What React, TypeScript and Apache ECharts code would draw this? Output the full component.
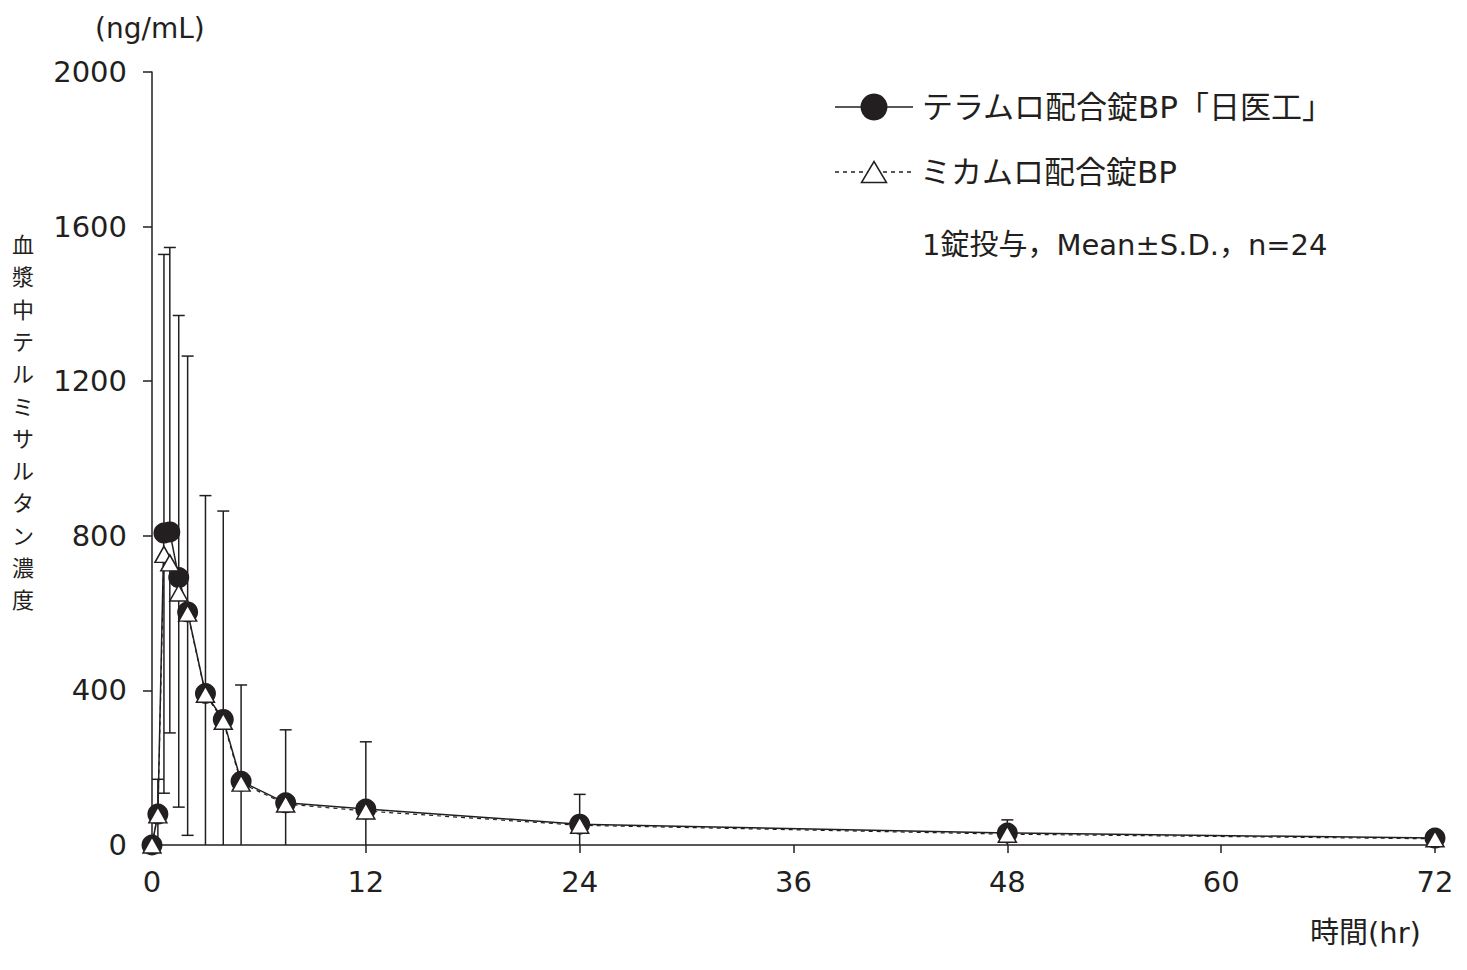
import React, { useEffect, useRef } from "react";
import * as echarts from "echarts";

const times = [0, 0.33, 0.67, 1, 1.5, 2, 3, 4, 5, 7.5, 12, 24, 48, 72];
const testMean = [0, 80, 807, 810, 692, 603, 392, 325, 165, 109, 93, 54, 31, 18];
const testSD = [0, 90, 721, 736, 678, 662, 512, 539, 249, 189, 174, 77, 34, 14];
const refMean = [0, 78, 752, 730, 652, 600, 390, 320, 160, 106, 88, 51, 28, 16];
const refSD = [0, 95, 618, 440, 554, 575, 480, 520, 250, 190, 170, 75, 35, 20];

const testName = "テラムロ配合錠BP「日医工」";
const refName = "ミカムロ配合錠BP";
const noteText = "1錠投与，Mean±S.D.，n=24";
const yName = "血漿中テルミサルタン濃度";
const yUnit = "(ng/mL)";
const xName = "時間(hr)";

const INK = "#231f20";
const LATIN = "'DejaVu Sans', 'Noto Sans CJK JP', sans-serif";
const CJK = "'Noto Sans CJK JP', sans-serif";

export default function App() {
  const ref = useRef<HTMLDivElement>(null);
  useEffect(() => {
    document.body.style.margin = "0";
    const chart = echarts.init(ref.current!, null, { renderer: "svg" });

    const upperBars = times
      .map((t, i) => [t, testMean[i], testMean[i] + testSD[i], 1])
      .filter((_, i) => testSD[i] > 0);
    const lowerBars = times
      .map((t, i) => {
        const lo = refMean[i] - refSD[i];
        return [t, refMean[i], Math.max(lo, 0), lo >= 0 ? 1 : 0];
      })
      .filter((_, i) => refSD[i] > 0);

    const renderBar = (params: any, api: any) => {
      const x = api.value(0);
      const a = api.coord([x, api.value(1)]);
      const b = api.coord([x, api.value(2)]);
      const st = { stroke: INK, lineWidth: 1.5 };
      const children: any[] = [
        { type: "line", shape: { x1: a[0], y1: a[1], x2: b[0], y2: b[1] }, style: st },
      ];
      if (api.value(3)) {
        children.push({
          type: "line",
          shape: { x1: b[0] - 6, y1: b[1], x2: b[0] + 6, y2: b[1] },
          style: st,
        });
      }
      return { type: "group", children };
    };

    const yNameChars = yName.split("").map((ch, i) => ({
      type: "text",
      x: 23,
      y: 243 + i * 32.3,
      style: {
        text: ch,
        fill: INK,
        fontSize: 22,
        fontFamily: CJK,
        align: "center",
        textAlign: "center",
        verticalAlign: "middle",
        textVerticalAlign: "middle",
      },
    }));

    const option: any = {
      animation: false,
      backgroundColor: "#fff",
      grid: { left: 152, top: 72, width: 1283, height: 773, containLabel: false },
      xAxis: {
        type: "value",
        min: 0,
        max: 72,
        interval: 12,
        axisLine: { show: true, lineStyle: { color: INK, width: 1.5 } },
        axisTick: { show: true, length: 8, lineStyle: { color: INK, width: 1.5 } },
        axisLabel: { color: INK, fontSize: 29, fontFamily: LATIN, margin: 22,
          formatter: (v: number) => String(v) },
        splitLine: { show: false },
      },
      yAxis: {
        type: "value",
        min: 0,
        max: 2000,
        interval: 400,
        axisLine: { show: true, lineStyle: { color: INK, width: 1.5 } },
        axisTick: { show: true, length: 9, lineStyle: { color: INK, width: 1.5 } },
        axisLabel: { color: INK, fontSize: 29, fontFamily: LATIN, margin: 25,
          formatter: (v: number) => String(v) },
        splitLine: { show: false },
      },
      series: [
        {
          type: "custom",
          name: "upper",
          renderItem: renderBar,
          data: upperBars,
          encode: { x: 0, y: [1, 2] },
          z: 1,
          clip: false,
        },
        {
          type: "custom",
          name: "lower",
          renderItem: renderBar,
          data: lowerBars,
          encode: { x: 0, y: [1, 2] },
          z: 1,
          clip: false,
        },
        {
          type: "line",
          name: testName,
          data: times.map((t, i) => [t, testMean[i]]),
          symbol: "circle",
          symbolSize: 21,
          showAllSymbol: true,
          lineStyle: { color: INK, width: 1.5 },
          itemStyle: { color: INK, borderColor: INK, borderWidth: 0 },
          z: 3,
          clip: false,
        },
        {
          type: "line",
          name: refName,
          data: times.map((t, i) => [t, refMean[i]]),
          symbol: "triangle",
          symbolSize: [18, 16],
          showAllSymbol: true,
          lineStyle: { color: INK, width: 1.2, type: [4, 4] },
          itemStyle: { color: "#fff", borderColor: INK, borderWidth: 1.5 },
          z: 4,
          clip: false,
        },
      ],
      graphic: [
        {
          type: "text",
          left: 95,
          top: 14,
          style: { text: yUnit, fill: INK, fontSize: 28, fontFamily: LATIN },
        },
        ...yNameChars,
        {
          type: "text",
          x: 1310,
          y: 933,
          style: {
            text: xName,
            fill: INK,
            fontSize: 29,
            fontFamily: LATIN,
            verticalAlign: "middle",
            textVerticalAlign: "middle",
          },
        },
        {
          type: "line",
          shape: { x1: 835, y1: 107, x2: 913, y2: 107 },
          style: { stroke: INK, lineWidth: 1.5 },
        },
        {
          type: "circle",
          shape: { cx: 874, cy: 107, r: 13.5 },
          style: { fill: INK },
        },
        {
          type: "text",
          x: 922,
          y: 107,
          style: {
            text: testName,
            fill: INK,
            fontSize: 31,
            fontFamily: LATIN,
            verticalAlign: "middle",
            textVerticalAlign: "middle",
          },
        },
        {
          type: "line",
          shape: { x1: 835, y1: 172, x2: 913, y2: 172 },
          style: { stroke: INK, lineWidth: 1.3, lineDash: [4, 4] },
        },
        {
          type: "polygon",
          shape: { points: [[861.5, 182.5], [886.5, 182.5], [874, 161.5]] },
          style: { fill: "#fff", stroke: INK, lineWidth: 1.5 },
          z: 10,
        },
        {
          type: "text",
          x: 920,
          y: 172,
          style: {
            text: refName,
            fill: INK,
            fontSize: 31,
            fontFamily: LATIN,
            verticalAlign: "middle",
            textVerticalAlign: "middle",
          },
        },
        {
          type: "text",
          x: 922,
          y: 245,
          style: {
            text: noteText,
            fill: INK,
            fontSize: 29,
            fontFamily: LATIN,
            verticalAlign: "middle",
            textVerticalAlign: "middle",
          },
        },
      ],
    };
    chart.setOption(option);
    return () => chart.dispose();
  }, []);
  return <div ref={ref} style={{ width: 1467, height: 970 }} />;
}
